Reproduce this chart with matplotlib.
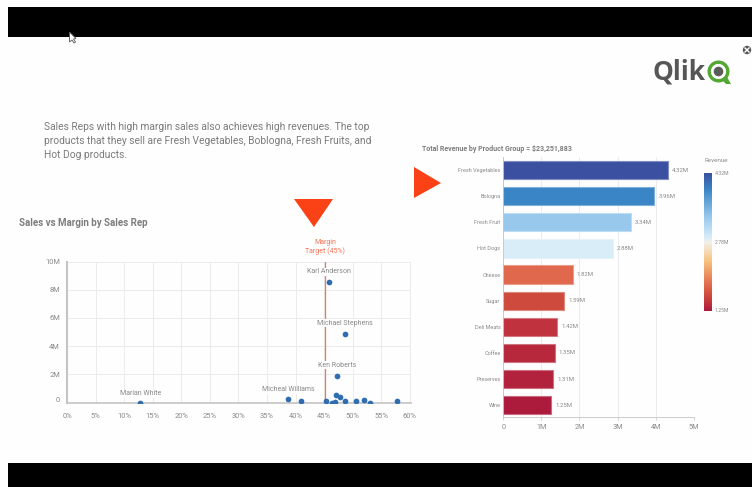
"""
Qlik slide: sales vs margin scatter plus revenue by product group bars.
Canvas is 752x487, decorations are placed in pixel coordinates.
"""
import matplotlib
matplotlib.use("Agg")
import matplotlib.pyplot as plt
import numpy as np
from matplotlib.colors import LinearSegmentedColormap, Normalize, to_rgb
from matplotlib.patches import Circle, Polygon, Rectangle, Wedge
from matplotlib.transforms import ScaledTranslation

plt.rcParams.update({
    "font.family": ["Roboto", "DejaVu Sans"],
    "axes.spines.top": False,
    "axes.spines.right": False,
})

W, H = 752, 487

# ── Data ──
margin_pct = [45.8, 48.7, 47.3, 38.7, 41.0, 12.8, 45.3, 46.4, 46.9, 47.1, 47.8,
              48.7, 50.5, 52.0, 53.1, 57.7]
sales_m = [8.52, 4.88, 1.90, 0.23, 0.10, 0.0, 0.12, 0.0, 0.03, 0.50, 0.40,
           0.08, 0.13, 0.15, 0.0, 0.08]
named_reps = ["Karl Anderson", "Michael Stephens", "Ken Roberts", "Micheal Williams", "Marian White"]
margin_target = 45.2
x_ticks = list(range(0, 65, 5))
y_ticks = [0, 2, 4, 6, 8, 10]
y_tick_labels = ["0", "2M", "4M", "6M", "8M", "10M"]

products = ["Fresh Vegetables", "Bologna", "Fresh Fruit", "Hot Dogs", "Cheese",
            "Sugar", "Deli Meats", "Coffee", "Preserves", "Wine"]
revenue_m = [4.32, 3.96, 3.34, 2.88, 1.82, 1.59, 1.42, 1.35, 1.31, 1.25]
revenue_labels = ["4.32M", "3.96M", "3.34M", "2.88M", "1.82M", "1.59M", "1.42M",
                  "1.35M", "1.31M", "1.25M"]
rev_ticks = [0, 1, 2, 3, 4, 5]
rev_tick_labels = ["0", "1M", "2M", "3M", "4M", "5M"]

# Colours
C_ORANGE = "#FB4116"
C_TARGET = "#F4755A"
C_DOT = "#2F6DB0"
C_GRID = "#EBEBEB"
C_AXIS = "#C4C4C4"
C_TEXT = "#8A8A8A"
C_TITLE = "#7D7D7D"

stops = [(1.25, "#AC1A3C"), (1.42, "#BF323E"), (1.59, "#CD4A3C"), (1.82, "#E0694C"),
         (2.35, "#F7C27E"), (2.78, "#F3EFE8"), (2.88, "#D8EDFA"), (3.34, "#99C9EC"),
         (3.96, "#3A85C5"), (4.32, "#3B50A0")]
norm = Normalize(1.25, 4.32)
cmap = LinearSegmentedColormap.from_list("rev", [(norm(v), c) for v, c in stops])


def px_axes(fig, left, top, right, bottom):
    return fig.add_axes([left / W, 1 - bottom / H, (right - left) / W, (bottom - top) / H])


def lighten(c, t=0.35):
    return tuple(x + (1 - x) * t for x in to_rgb(c))


fig = plt.figure(figsize=(W / 100, H / 100), dpi=100, facecolor="#FEFEFE")

# ── Backdrop in pixel coordinates ──
bg = fig.add_axes([0, 0, 1, 1], zorder=0)
bg.set_xlim(0, W)
bg.set_ylim(H, 0)
bg.axis("off")
bg.add_patch(Rectangle((8, 7), W - 8, 29.5, fc="black", ec="none"))
bg.add_patch(Rectangle((8, 463), W - 8, 24, fc="black", ec="none"))

# cursor
bg.add_patch(Polygon([(69.5, 32), (69.5, 42), (72, 40), (74, 43), (75.5, 42), (73.5, 39), (76, 38.5)],
                     fc="white", ec="#555555", lw=0.6, zorder=5))

# close button
bg.add_patch(Circle((747, 50), 4.2, fc="#555555", ec="none"))
bg.plot([745, 749], [48, 52], color="white", lw=1)
bg.plot([745, 749], [52, 48], color="white", lw=1)

# logo
bg.text(653, 72, "Qlik", fontsize=19, fontweight="bold", color="#565656", ha="left", va="center",
        family=["Open Sans", "DejaVu Sans"])
bg.add_patch(Wedge((718.5, 71.5), 11, 0, 360, width=3.4, fc="#52A833", ec="none"))
bg.add_patch(Circle((718.5, 71.5), 4.8, fc="#5A5A5A", ec="none"))
bg.add_patch(Polygon([(722, 80), (727, 77), (731, 84), (726, 84)], fc="#52A833", ec="none"))

# headline text
for y, line in zip([127, 141, 155],
                   ["Sales Reps with high margin sales also achieves high revenues. The top",
                    "products that they sell are Fresh Vegetables, Boblogna, Fresh Fruits, and",
                    "Hot Dog products."]):
    bg.text(44, y, line, fontsize=7.35, color="#7B7B7B", ha="left", va="center")

bg.text(19, 223, "Sales vs Margin by Sales Rep", fontsize=7, fontweight="bold", color=C_TITLE,
        ha="left", va="center")
bg.text(422, 149, "Total Revenue by Product Group = $23,251,883", fontsize=5.05, fontweight="bold",
        color=C_TITLE, ha="left", va="center")

# arrows pointing at the two charts
bg.add_patch(Polygon([(294, 199), (333, 199), (314, 227)], fc=C_ORANGE, ec="none"))
bg.add_patch(Polygon([(414, 167), (414, 198), (441, 183)], fc=C_ORANGE, ec="none"))

bg.text(325, 242, "Margin", fontsize=5.0, color=C_TARGET, ha="center", va="center")
bg.text(325, 251, "Target (45%)", fontsize=5.0, color=C_TARGET, ha="center", va="center")

# ── Scatter ──
ax = px_axes(fig, 67, 261.5, 411, 402.5)
ax.patch.set_alpha(0)
ax.set_xlim(0, 60.2)
ax.set_ylim(0, 9.93)
ax.grid(True, color=C_GRID, lw=0.7)
ax.set_axisbelow(True)
ax.set_xticks(x_ticks)
ax.set_xticklabels([f"{v}%" for v in x_ticks])
ax.set_yticks(y_ticks)
ax.set_yticklabels(y_tick_labels)
ax.tick_params(length=0, labelsize=5.4, labelcolor=C_TEXT)
ax.tick_params(axis="x", pad=7.5)
ax.tick_params(axis="y", pad=5)
# the zero label sits a little above the axis line in the original
zero_lab = ax.get_yticklabels()[0]
zero_lab.set_transform(zero_lab.get_transform() + ScaledTranslation(0, 3.5 / 100, fig.dpi_scale_trans))
ax.spines["left"].set_color(C_AXIS)
ax.spines["left"].set_linewidth(1.5)
ax.spines["bottom"].set_color(C_AXIS)
ax.spines["bottom"].set_linewidth(1.2)
ax.axvline(margin_target, color=C_TARGET, lw=0.9, zorder=2)
ax.scatter(margin_pct, sales_m, s=17, color=C_DOT, linewidths=0, zorder=3)

label_offsets = [(0, 7.5), (0, 7.5), (0, 7.5), (0, 6.8), (0, 6.3)]
for name, dx_dy, mx, sy in zip(named_reps, label_offsets,
                               [45.8, 48.7, 47.3, 38.7, 12.8], [8.52, 4.88, 1.90, 0.23, 0.0]):
    ax.annotate(name, (mx, sy), xytext=dx_dy, textcoords="offset points", ha="center", va="center",
                fontsize=5.0, color=C_TEXT, zorder=4, annotation_clip=False,
                bbox=dict(boxstyle="square,pad=0.1", fc="#FEFEFE", ec="none"))

# ── Revenue bars ──
ay = px_axes(fig, 503.3, 157, 693.8, 417)
ay.patch.set_alpha(0)
y_pos = np.arange(len(products))
ay.set_xlim(0, 5)
ay.set_ylim(len(products) - 0.55, -0.5)
ay.grid(True, axis="x", color=C_GRID, lw=0.7)
ay.set_axisbelow(True)
bar_colors = [cmap(norm(v)) for v in revenue_m]
ay.barh(y_pos, revenue_m, height=0.7, color=bar_colors,
        edgecolor=[lighten(c) for c in bar_colors], linewidth=0.8, zorder=2)
for y, v, lab in zip(y_pos, revenue_m, revenue_labels):
    ay.annotate(lab, (v, y), xytext=(3, 0), textcoords="offset points", ha="left", va="center",
                fontsize=4.3, color=C_TEXT)
ay.set_yticks(y_pos)
ay.set_yticklabels(products)
ay.set_xticks(rev_ticks)
ay.set_xticklabels(rev_tick_labels)
ay.tick_params(axis="y", length=0, labelsize=4.0, labelcolor=C_TEXT, pad=2)
ay.tick_params(axis="x", length=2, width=0.5, color=C_AXIS, labelsize=5.2, labelcolor=C_TEXT, pad=3)
ay.spines["left"].set_color(C_AXIS)
ay.spines["left"].set_linewidth(0.6)
ay.spines["bottom"].set_color(C_AXIS)
ay.spines["bottom"].set_linewidth(0.6)

# ── Colour legend ──
cb = px_axes(fig, 704, 173, 711.5, 311)
cb.imshow(np.linspace(1, 0, 256).reshape(-1, 1), cmap=cmap, aspect="auto", extent=(0, 1, 1.25, 4.32))
cb.set_xticks([])
cb.set_yticks([])
for s in cb.spines.values():
    s.set_visible(False)
bg.text(716, 161, "Revenue", fontsize=4.5, color=C_TEXT, ha="center", va="center")
for y, lab in zip([173.5, 242, 311], ["4.32M", "2.78M", "1.25M"]):
    bg.text(714.5, y, lab, fontsize=3.7, color=C_TEXT, ha="left", va="center")

fig.savefig("out.png", dpi=100, facecolor=fig.get_facecolor())
